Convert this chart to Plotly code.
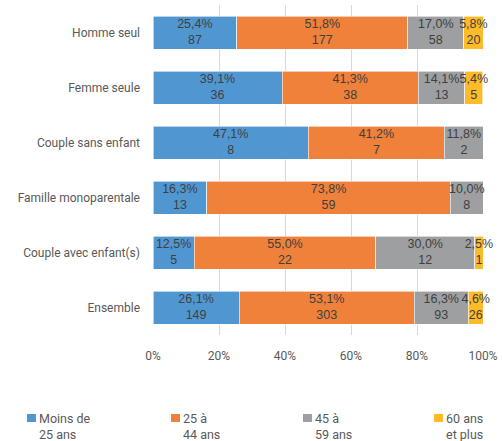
import plotly.graph_objects as go

categories = ["Homme seul", "Femme seule", "Couple sans enfant",
              "Famille monoparentale", "Couple avec enfant(s)", "Ensemble"]
series_names = ["Moins de<br>25 ans", "25 à<br>44 ans", "45 à<br>59 ans", "60 ans<br>et plus"]
colors = ["#5097D2", "#F0813A", "#9D9FA0", "#FDBB2A"]

pct_moins25 = [25.4, 39.1, 47.1, 16.3, 12.5, 26.1]
pct_25_44 = [51.8, 41.3, 41.2, 73.8, 55.0, 53.1]
pct_45_59 = [17.0, 14.1, 11.8, 10.0, 30.0, 16.3]
pct_60plus = [5.8, 5.4, 0.0, 0.0, 2.5, 4.6]

n_moins25 = [87, 36, 8, 13, 5, 149]
n_25_44 = [177, 38, 7, 59, 22, 303]
n_45_59 = [58, 13, 2, 8, 12, 93]
n_60plus = [20, 5, 0, 0, 1, 26]

x_ticks = [0, 20, 40, 60, 80, 100]

pcts = [pct_moins25, pct_25_44, pct_45_59, pct_60plus]
counts = [n_moins25, n_25_44, n_45_59, n_60plus]

font_axis = "Roboto, Liberation Sans, sans-serif"
font_label = "Liberation Sans, Arial, sans-serif"

W, H = 503, 441
ML, MR, MT, MB = 153, 20, 5, 106
plot_w, plot_h = W - ML - MR, H - MT - MB


def px_to_paper(px, py):
    return (px - ML) / plot_w, (H - MB - py) / plot_h


fig = go.Figure()
base = [0.0] * len(categories)
for name, color, p, n in zip(series_names, colors, pcts, counts):
    fig.add_trace(go.Bar(
        y=categories, x=p, name=name, orientation="h",
        marker=dict(color=color, line=dict(color="white", width=0.6)),
        width=0.6, hoverinfo="skip", showlegend=False,
    ))
    # data labels centred on each segment, as a text trace so they can overflow
    mids = [b + v / 2 for b, v in zip(base, p)]
    labels = [f"{v:.1f}%".replace(".", ",") + f"<br>{c}" if c > 0 else "" for v, c in zip(p, n)]
    fig.add_trace(go.Scatter(
        x=mids, y=categories, mode="text", text=labels,
        textposition="middle center", cliponaxis=False, showlegend=False,
        textfont=dict(family=font_label, size=12.5, color="#404040"),
        hoverinfo="skip",
    ))
    base = [b + v for b, v in zip(base, p)]

# legend drawn by hand: small squares with two-line labels below the chart
legend_left = [27, 171, 303, 434]
for name, color, lx in zip(series_names, colors, legend_left):
    x0, y0 = px_to_paper(lx, 414)
    x1, y1 = px_to_paper(lx + 9, 422)
    fig.add_shape(type="rect", xref="paper", yref="paper",
                  x0=x0, x1=x1, y0=y1, y1=y0,
                  fillcolor=color, line=dict(width=0))
    tx, ty = px_to_paper(lx + 10, 409)
    fig.add_annotation(
        xref="paper", yref="paper", x=tx, y=ty, xanchor="left", yanchor="top",
        text=name, align="left", showarrow=False,
        font=dict(family=font_axis, size=12.5, color="#595959"),
    )

fig.update_layout(
    barmode="stack",
    width=W, height=H,
    margin=dict(l=ML, r=MR, t=MT, b=MB, autoexpand=False),
    plot_bgcolor="white", paper_bgcolor="white",
    font=dict(family=font_axis, color="#595959", size=12),
    showlegend=False,
)
fig.update_xaxes(
    range=[0, 100], tickvals=x_ticks, ticktext=[f"{t}%" for t in x_ticks],
    showgrid=True, gridcolor="#D9D9D9", gridwidth=1, zeroline=False,
    showline=False, ticklabelstandoff=12, automargin=False,
    tickfont=dict(family=font_axis, size=12, color="#595959"),
)
fig.update_yaxes(
    categoryorder="array", categoryarray=categories, autorange="reversed",
    showgrid=False, zeroline=False, showline=False, ticklabelstandoff=12,
    automargin=False,
    tickfont=dict(family=font_axis, size=12, color="#595959"),
)

fig.write_html("out.html", config={"displayModeBar": False},
               post_script="document.body.style.margin='0';")
